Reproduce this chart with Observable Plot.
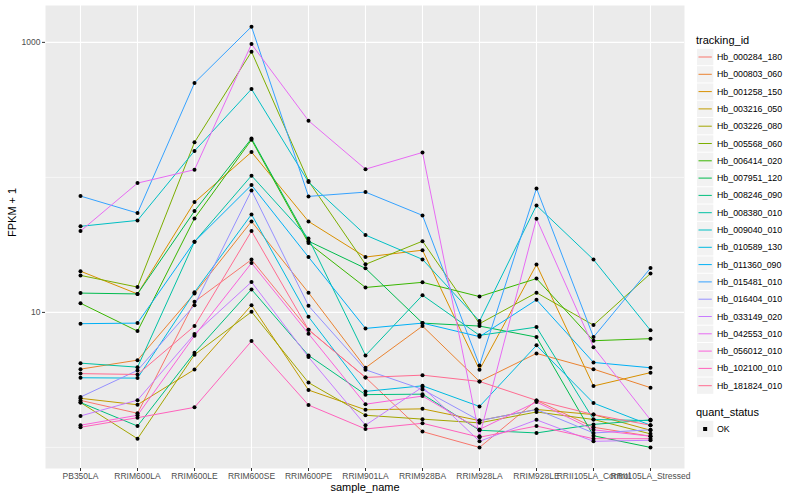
<!DOCTYPE html>
<html>
<head>
<meta charset="utf-8">
<script src="https://cdn.jsdelivr.net/npm/d3@7"></script>
<script src="https://cdn.jsdelivr.net/npm/@observablehq/plot@0.6"></script>
<style>
  body { margin: 0; background: #fff; }
  #wrap { position: relative; width: 800px; height: 500px; font-family: "Liberation Sans", Arial, sans-serif; }
  #wrap svg { display: block; }
</style>
</head>
<body>
<div id="wrap"></div>
<script>
const samples = ["PB350LA","RRIM600LA","RRIM600LE","RRIM600SE","RRIM600PE","RRIM901LA","RRIM928BA","RRIM928LA","RRIM928LE","RRII105LA_Control","RRII105LA_Stressed"];

const trackingIds = ["Hb_000284_180","Hb_000803_060","Hb_001258_150","Hb_003216_050","Hb_003226_080","Hb_005568_060","Hb_006414_020","Hb_007951_120","Hb_008246_090","Hb_008380_010","Hb_009040_010","Hb_010589_130","Hb_011360_090","Hb_015481_010","Hb_016404_010","Hb_033149_020","Hb_042553_010","Hb_056012_010","Hb_102100_010","Hb_181824_010"];

const palette = ["#F8766D","#EA8331","#D89000","#C09B00","#A3A500","#7CAE00","#39B600","#00BB4E","#00BF7D","#00C1A3","#00BFC4","#00BAE0","#00B0F6","#35A2FF","#9590FF","#C77CFF","#E76BF3","#FA62DB","#FF62BC","#FF6C91"];

// FPKM + 1, one row per tracking_id, columns in sample order
const fpkmPlusOne = [
  [2.23, 1.79, 12.0, 24.6, 7.44, 3.30, 1.31, 1.00, 2.23, 1.41, 1.21],
  [3.80, 4.43, 13.8, 47.2, 14.0, 3.89, 7.92, 3.08, 4.97, 3.80, 2.77],
  [20.2, 13.7, 65.6, 154, 47.2, 25.7, 28.9, 3.76, 22.6, 2.85, 3.58],
  [2.31, 2.07, 3.78, 11.3, 2.66, 1.90, 1.93, 1.58, 1.91, 1.75, 1.34],
  [2.15, 1.16, 4.86, 10.1, 3.02, 1.73, 1.62, 1.52, 1.83, 1.61, 1.26],
  [18.8, 15.4, 182, 853, 93.9, 22.7, 33.7, 8.25, 14.0, 8.05, 19.4],
  [11.7, 7.27, 49.7, 190, 32.6, 15.3, 16.7, 13.1, 17.8, 6.17, 6.39],
  [13.9, 13.7, 56.3, 194, 33.7, 21.2, 8.33, 7.92, 6.56, 1.22, 1.00],
  [2.15, 1.44, 5.03, 14.8, 4.80, 2.46, 2.48, 1.34, 1.28, 1.48, 1.60],
  [4.21, 3.93, 33.4, 103, 35.3, 4.80, 13.4, 6.76, 7.78, 1.61, 1.58],
  [43.4, 48.0, 157, 451, 92.3, 37.4, 24.7, 8.62, 62.0, 24.6, 7.36],
  [3.28, 3.26, 14.1, 53.2, 9.29, 2.60, 2.86, 2.01, 5.70, 2.13, 1.46],
  [8.25, 8.33, 33.4, 87.7, 25.7, 7.61, 8.33, 6.61, 12.4, 4.26, 3.89],
  [72.7, 54.4, 500, 1307, 72.3, 77.8, 52.3, 4.05, 82.9, 6.56, 21.3],
  [2.36, 3.72, 11.3, 80.1, 11.2, 3.76, 2.69, 1.58, 1.91, 1.28, 1.35],
  [1.71, 2.24, 6.91, 16.8, 4.67, 1.46, 2.80, 1.11, 1.60, 1.11, 1.13],
  [40.0, 90.7, 114, 971, 263, 115, 153, 1.21, 49.4, 5.53, 1.60],
  [1.46, 1.73, 6.72, 23.2, 6.95, 2.09, 2.40, 1.36, 2.17, 1.35, 1.21],
  [1.41, 1.66, 1.98, 6.13, 2.06, 1.37, 1.51, 1.19, 1.44, 1.16, 1.16],
  [3.52, 3.47, 7.92, 40.0, 7.44, 3.30, 3.43, 3.08, 2.23, 1.75, 1.46]
];

const yTicks = [10, 1000];
const yMinor = [1, 100];

const rows = [];
trackingIds.forEach((id, i) => {
  samples.forEach((s, j) => rows.push({id, sample: s, value: fpkmPlusOne[i][j], status: "OK"}));
});

const font = "'Liberation Sans', Arial, sans-serif";

const chart = Plot.plot({
  width: 800,
  height: 500,
  marginLeft: 45,
  marginRight: 116,
  marginTop: 5,
  marginBottom: 32,
  style: {fontFamily: font, fontSize: "8.5px", color: "#4D4D4D", background: "white"},
  x: {type: "point", domain: samples, padding: 0.6},
  y: {type: "log", domain: [0.698, 1875]},
  color: {domain: trackingIds, range: palette},
  marks: [
    Plot.frame({fill: "#EBEBEB", stroke: null}),
    Plot.ruleY(yMinor, {stroke: "white", strokeWidth: 0.55}),
    Plot.ruleY(yTicks, {stroke: "white", strokeWidth: 1.1}),
    Plot.ruleX(samples, {stroke: "white", strokeWidth: 1.1}),
    Plot.axisX({tickSize: 3, tickPadding: 1.5, stroke: "#333333", fill: "#4D4D4D", label: null}),
    Plot.axisY({ticks: yTicks, tickFormat: d => String(d), tickSize: 3, tickPadding: 2, stroke: "#333333", fill: "#4D4D4D", label: null}),
    Plot.line(rows, {x: "sample", y: "value", z: "id", stroke: "id", strokeWidth: 1}),
    Plot.dot(rows, {x: "sample", y: "value", r: 2, fill: "black", stroke: null}),
    Plot.text(["sample_name"], {frameAnchor: "bottom", dy: 22, fontSize: 11, fill: "black"}),
    Plot.text(["FPKM + 1"], {frameAnchor: "left", dx: -33, rotate: -90, fontSize: 11, fill: "black"})
  ]
});

const wrap = document.getElementById("wrap");
wrap.appendChild(chart);

// Legend
const leg = d3.select(wrap).append("svg")
  .attr("width", 800).attr("height", 500)
  .style("position", "absolute").style("left", "0px").style("top", "0px")
  .style("font-family", font);

const lx = 696, rowH = 17.3, firstY = 57;
leg.append("text").attr("x", lx).attr("y", 44).attr("font-size", 11).attr("fill", "black").text("tracking_id");
trackingIds.forEach((id, i) => {
  const cy = firstY + i * rowH;
  const g = leg.append("g");
  g.append("rect").attr("x", lx + 1).attr("y", cy - rowH / 2 + 0.5).attr("width", rowH - 1).attr("height", rowH - 1).attr("fill", "#F2F2F2");
  g.append("line").attr("x1", lx + 2.5).attr("x2", lx + rowH - 1.5).attr("y1", cy).attr("y2", cy)
    .attr("stroke", palette[i]).attr("stroke-width", 1);
  g.append("text").attr("x", lx + 21).attr("y", cy).attr("dy", "0.35em").attr("font-size", 8.8).attr("fill", "black").text(id);
});

leg.append("text").attr("x", lx).attr("y", 416).attr("font-size", 11).attr("fill", "black").text("quant_status");
const okY = 429;
leg.append("rect").attr("x", lx + 1).attr("y", okY - rowH / 2 + 0.5).attr("width", rowH - 1).attr("height", rowH - 1).attr("fill", "#F2F2F2");
leg.append("rect").attr("x", lx + rowH / 2 - 1.5).attr("y", okY - 2).attr("width", 4).attr("height", 4).attr("fill", "black");
leg.append("text").attr("x", lx + 21).attr("y", okY).attr("dy", "0.35em").attr("font-size", 8.8).attr("fill", "black").text("OK");
</script>
</body>
</html>
